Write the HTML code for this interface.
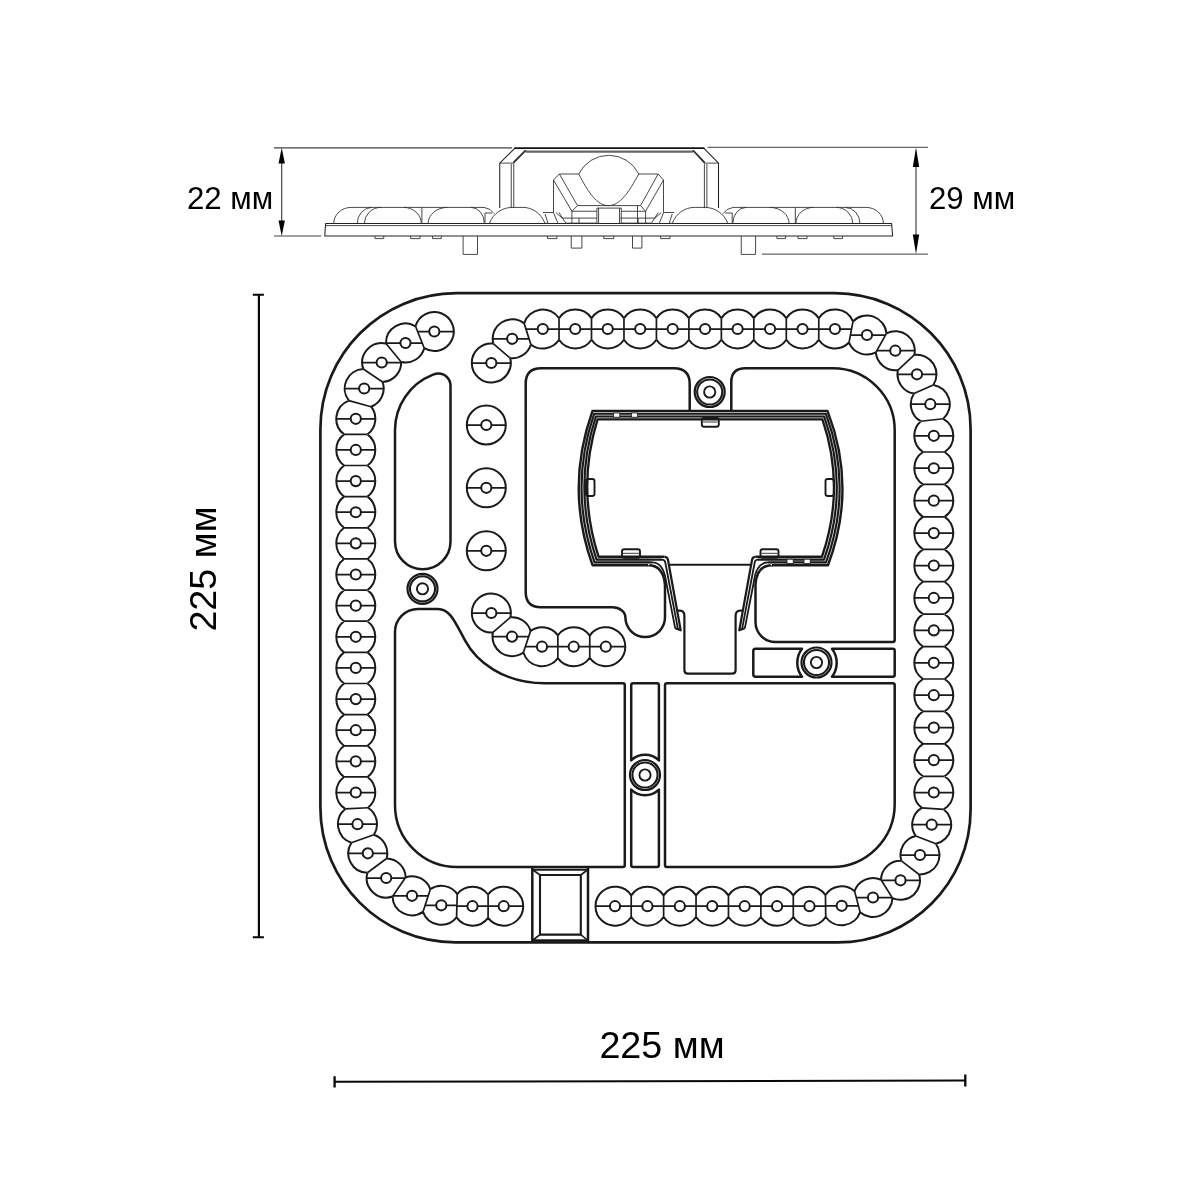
<!DOCTYPE html>
<html lang="ru">
<head>
<meta charset="utf-8">
<title>225 мм</title>
<style>
html,body{margin:0;padding:0;background:#fff;}
body{width:1200px;height:1200px;overflow:hidden;font-family:"Liberation Sans",sans-serif;}
svg{display:block;}
text{font-family:"Liberation Sans",sans-serif;fill:#000;}
svg{will-change:transform;}
.m{fill:none;stroke:#1a1a1a;stroke-width:2.5;stroke-linejoin:round;stroke-linecap:round;}
.l{fill:none;stroke:#1a1a1a;stroke-width:2;stroke-linecap:butt;}
.s{fill:none;stroke:#1a1a1a;stroke-width:1.5;}
.t{fill:none;stroke:#222;stroke-width:0.9;stroke-linejoin:round;}
.d{fill:none;stroke:#1a1a1a;stroke-width:2;stroke-linejoin:round;stroke-linecap:round;}
.e{fill:none;stroke:#444;stroke-width:1.15;}
.v{fill:none;stroke:#333;stroke-width:0.9;stroke-linejoin:round;}
.vb{fill:none;stroke:#222;stroke-width:1.05;stroke-linejoin:round;}
.k{fill:none;stroke:#111;stroke-width:2.1;}
</style>
</head>
<body>
<svg width="1200" height="1200" viewBox="0 0 1200 1200">
<rect width="1200" height="1200" fill="#fff"/>

<g id="plan">
<path class="m" style="stroke-width:2.7" d="M456.4,293.2H834.6C909.71,293.2 970.6,354.09 970.6,429.2V809.4C970.6,882.86 911.06,942.4 837.6,942.4H455.4C380.84,942.4 320.4,881.96 320.4,807.4V429.2C320.4,354.09 381.29,293.2 456.4,293.2Z"/>
<path class="m" d="M395,541.5V430A59.3,59.3 0 0 1 432.5,374.9Q436,373.5 438.5,373.5A12,12 0 0 1 450.5,385.5V541.5A27.75,27.75 0 0 1 395,541.5Z"/>
<path class="m" d="M395,632A23,23 0 0 1 418,609H438C450,609 455,622 465,640.3C476,661 503,683.3 545,683.3H622.8Q624.8,683.3 624.8,685.3V865Q624.8,867 622.8,867H457A62,62 0 0 1 395,805Z"/>
<path class="m" d="M631.2,685.3Q631.2,683.3 633.2,683.3H656.9Q658.9,683.3 658.9,685.3V760.4A20,20 0 0 0 631.2,760.4Z"/>
<path class="m" d="M631.2,789.6A20,20 0 0 0 658.9,789.6V865Q658.9,867 656.9,867H633.2Q631.2,867 631.2,865Z"/>
<path class="m" d="M665,685.3Q665,683.3 667,683.3H892.7Q894.7,683.3 894.7,685.3V804A63,63 0 0 1 831.7,867H667Q665,867 665,865Z"/>
<path class="m" d="M753.3,651Q753.3,648.7 755.5,648.7H802A23.2,23.2 0 0 0 802,676.7H755.5Q753.3,676.7 753.3,674.5Z"/>
<path class="m" d="M832,648.7H892.7Q894.7,648.7 894.7,650.7V674.7Q894.7,676.7 892.7,676.7H832A23.2,23.2 0 0 0 832,648.7Z"/>
<path class="m" d="M689.7,411V384Q689.7,368.2 674,368.2H541Q525.7,368.2 525.7,383.5V592Q525.7,607.2 541,607.2H612.5A12.9,10.2 0 0 1 625.4,617.3A19.8,19.8 0 0 0 665,617.3V586Q664,565.2 648,565.2"/>
<path class="m" d="M731.3,411V382Q731.3,368.2 745.5,368.2H832.7A62,62 0 0 1 894.7,430.2V640Q894.7,642 892.7,642H775.5A20,20 0 0 1 755.5,622.5V584Q757,565.2 772,565.2"/>
<path class="l" style="stroke-width:2.2" d="M677.5,610.6H680Q684.4,610.6 684.4,616V670.2Q684.4,673.7 688,673.7H732Q735.6,673.7 735.6,670.2V616Q735.6,610.6 740,610.6H742.5"/>
<path class="l" d="M669.5,564.7H751"/>
<path class="m" d="M532.3,867.3V942M588,867.3V942"/>
<path class="l" style="stroke-width:2" d="M532.3,869.7H588M532.3,940.3H588"/>
<path class="l" style="stroke-width:2.1" d="M540,875H580.8V934.6H540Z"/>
<path class="l" style="stroke-width:1.6" d="M533,870L540,875M587.3,870L580.8,875M533,940L540,934.6M587.3,940L580.8,934.6"/>
<path class="l" d="M415.51,326.27A19.5,19.5 0 1,1 424.29,348.23M429.2,331.5a5.1,5.1 0 1,0 10.2,0a5.1,5.1 0 1,0 -10.2,0M386.01,343.48A19.5,19.5 0 0,1 415.51,326.27M424.29,348.23A19.5,19.5 0 0,1 401.19,362.02M400.4,343a5.1,5.1 0 1,0 10.2,0a5.1,5.1 0 1,0 -10.2,0M363.32,369.02A19.5,19.5 0 0,1 386.01,343.48M401.19,362.02A19.5,19.5 0 0,1 382.58,381.98M376.6,362.5a5.1,5.1 0 1,0 10.2,0a5.1,5.1 0 1,0 -10.2,0M348.88,400.57A19.5,19.5 0 0,1 363.32,369.02M382.58,381.98A19.5,19.5 0 0,1 371.12,406.73M359.1,388.5a5.1,5.1 0 1,0 10.2,0a5.1,5.1 0 1,0 -10.2,0M344.06,434.37A19.5,19.5 0 0,1 348.88,400.57M371.12,406.73A19.5,19.5 0 0,1 367.54,434.37M350.7,418.8a5.1,5.1 0 1,0 10.2,0a5.1,5.1 0 1,0 -10.2,0M344.06,465.51A19.5,19.5 0 0,1 344.06,434.37M367.54,434.37A19.5,19.5 0 0,1 367.54,465.51M350.7,449.94a5.1,5.1 0 1,0 10.2,0a5.1,5.1 0 1,0 -10.2,0M344.06,496.65A19.5,19.5 0 0,1 344.06,465.51M367.54,465.51A19.5,19.5 0 0,1 367.54,496.65M350.7,481.08a5.1,5.1 0 1,0 10.2,0a5.1,5.1 0 1,0 -10.2,0M344.06,527.8A19.5,19.5 0 0,1 344.06,496.65M367.54,496.65A19.5,19.5 0 0,1 367.54,527.8M350.7,512.23a5.1,5.1 0 1,0 10.2,0a5.1,5.1 0 1,0 -10.2,0M344.06,558.94A19.5,19.5 0 0,1 344.06,527.8M367.54,527.8A19.5,19.5 0 0,1 367.54,558.94M350.7,543.37a5.1,5.1 0 1,0 10.2,0a5.1,5.1 0 1,0 -10.2,0M344.06,590.08A19.5,19.5 0 0,1 344.06,558.94M367.54,558.94A19.5,19.5 0 0,1 367.54,590.08M350.7,574.51a5.1,5.1 0 1,0 10.2,0a5.1,5.1 0 1,0 -10.2,0M344.06,621.22A19.5,19.5 0 0,1 344.06,590.08M367.54,590.08A19.5,19.5 0 0,1 367.54,621.22M350.7,605.65a5.1,5.1 0 1,0 10.2,0a5.1,5.1 0 1,0 -10.2,0M344.06,652.36A19.5,19.5 0 0,1 344.06,621.22M367.54,621.22A19.5,19.5 0 0,1 367.54,652.36M350.7,636.79a5.1,5.1 0 1,0 10.2,0a5.1,5.1 0 1,0 -10.2,0M344.06,683.5A19.5,19.5 0 0,1 344.06,652.36M367.54,652.36A19.5,19.5 0 0,1 367.54,683.5M350.7,667.93a5.1,5.1 0 1,0 10.2,0a5.1,5.1 0 1,0 -10.2,0M344.06,714.65A19.5,19.5 0 0,1 344.06,683.5M367.54,683.5A19.5,19.5 0 0,1 367.54,714.65M350.7,699.08a5.1,5.1 0 1,0 10.2,0a5.1,5.1 0 1,0 -10.2,0M344.06,745.79A19.5,19.5 0 0,1 344.06,714.65M367.54,714.65A19.5,19.5 0 0,1 367.54,745.79M350.7,730.22a5.1,5.1 0 1,0 10.2,0a5.1,5.1 0 1,0 -10.2,0M344.06,776.93A19.5,19.5 0 0,1 344.06,745.79M367.54,745.79A19.5,19.5 0 0,1 367.54,776.93M350.7,761.36a5.1,5.1 0 1,0 10.2,0a5.1,5.1 0 1,0 -10.2,0M345.34,808.96A19.5,19.5 0 0,1 344.06,776.93M367.54,776.93A19.5,19.5 0 0,1 367.96,807.74M350.7,792.5a5.1,5.1 0 1,0 10.2,0a5.1,5.1 0 1,0 -10.2,0M351.42,842.73A19.5,19.5 0 0,1 345.34,808.96M367.96,807.74A19.5,19.5 0 0,1 373.88,834.77M352.4,824.2a5.1,5.1 0 1,0 10.2,0a5.1,5.1 0 1,0 -10.2,0M367.41,872.8A19.5,19.5 0 0,1 351.42,842.73M373.88,834.77A19.5,19.5 0 0,1 386.59,858.5M362.7,853.3a5.1,5.1 0 1,0 10.2,0a5.1,5.1 0 1,0 -10.2,0M386.59,858.5A19.5,19.5 0 0,1 405.69,877.35M392.51,896.45A19.5,19.5 0 0,1 367.41,872.8M381.1,878a5.1,5.1 0 1,0 10.2,0a5.1,5.1 0 1,0 -10.2,0M405.69,877.35A19.5,19.5 0 0,1 430.34,889.17M422.96,911.93A19.5,19.5 0 0,1 392.51,896.45M406.9,895.8a5.1,5.1 0 1,0 10.2,0a5.1,5.1 0 1,0 -10.2,0M430.34,889.17A19.5,19.5 0 0,1 457.24,894.06M456.56,917.44A19.5,19.5 0 0,1 422.96,911.93M436.2,905.3a5.1,5.1 0 1,0 10.2,0a5.1,5.1 0 1,0 -10.2,0M457.24,894.06A19.5,19.5 0 0,1 488.1,894.5M488.1,917.9A19.5,19.5 0 0,1 456.56,917.44M467.4,906.2a5.1,5.1 0 1,0 10.2,0a5.1,5.1 0 1,0 -10.2,0M488.1,894.5A19.5,19.5 0 1,1 488.1,917.9M498.6,906.2a5.1,5.1 0 1,0 10.2,0a5.1,5.1 0 1,0 -10.2,0M631.21,917.04A19.5,19.5 0 1,1 631.21,895.36M609.9,906.2a5.1,5.1 0 1,0 10.2,0a5.1,5.1 0 1,0 -10.2,0M631.21,895.36A19.5,19.5 0 0,1 663.62,895.36M663.62,917.04A19.5,19.5 0 0,1 631.21,917.04M642.32,906.2a5.1,5.1 0 1,0 10.2,0a5.1,5.1 0 1,0 -10.2,0M663.62,895.36A19.5,19.5 0 0,1 696.04,895.36M696.04,917.04A19.5,19.5 0 0,1 663.62,917.04M674.73,906.2a5.1,5.1 0 1,0 10.2,0a5.1,5.1 0 1,0 -10.2,0M696.04,895.36A19.5,19.5 0 0,1 728.46,895.36M728.46,917.04A19.5,19.5 0 0,1 696.04,917.04M707.15,906.2a5.1,5.1 0 1,0 10.2,0a5.1,5.1 0 1,0 -10.2,0M728.46,895.36A19.5,19.5 0 0,1 760.88,895.36M760.88,917.04A19.5,19.5 0 0,1 728.46,917.04M739.57,906.2a5.1,5.1 0 1,0 10.2,0a5.1,5.1 0 1,0 -10.2,0M760.88,895.36A19.5,19.5 0 0,1 793.29,895.36M793.29,917.04A19.5,19.5 0 0,1 760.88,917.04M771.98,906.2a5.1,5.1 0 1,0 10.2,0a5.1,5.1 0 1,0 -10.2,0M793.29,895.36A19.5,19.5 0 0,1 825.46,895M825.74,917A19.5,19.5 0 0,1 793.29,917.04M804.4,906.2a5.1,5.1 0 1,0 10.2,0a5.1,5.1 0 1,0 -10.2,0M825.46,895A19.5,19.5 0 0,1 854.56,891.15M860.14,912.15A19.5,19.5 0 0,1 825.74,917M836.6,905.8a5.1,5.1 0 1,0 10.2,0a5.1,5.1 0 1,0 -10.2,0M854.56,891.15A19.5,19.5 0 0,1 881.01,879.72M892.49,898.08A19.5,19.5 0 0,1 860.14,912.15M867.9,897.5a5.1,5.1 0 1,0 10.2,0a5.1,5.1 0 1,0 -10.2,0M881.01,879.72A19.5,19.5 0 0,1 901.39,860.82M919.11,874.48A19.5,19.5 0 0,1 892.49,898.08M895.4,880.3a5.1,5.1 0 1,0 10.2,0a5.1,5.1 0 1,0 -10.2,0M901.39,860.82A19.5,19.5 0 0,1 915.78,835.96M935.92,843.74A19.5,19.5 0 0,1 919.11,874.48M914.9,855a5.1,5.1 0 1,0 10.2,0a5.1,5.1 0 1,0 -10.2,0M915.78,835.96A19.5,19.5 0 0,1 921.82,807.89M943.68,809.31A19.5,19.5 0 0,1 935.92,843.74M926.6,824.7a5.1,5.1 0 1,0 10.2,0a5.1,5.1 0 1,0 -10.2,0M921.82,807.89A19.5,19.5 0 0,1 922.97,776.29M944.63,776.29A19.5,19.5 0 0,1 943.68,809.31M928.7,792.5a5.1,5.1 0 1,0 10.2,0a5.1,5.1 0 1,0 -10.2,0M922.97,776.29A19.5,19.5 0 0,1 922.97,743.86M944.63,743.86A19.5,19.5 0 0,1 944.63,776.29M928.7,760.07a5.1,5.1 0 1,0 10.2,0a5.1,5.1 0 1,0 -10.2,0M922.97,743.86A19.5,19.5 0 0,1 922.97,711.43M944.63,711.43A19.5,19.5 0 0,1 944.63,743.86M928.7,727.65a5.1,5.1 0 1,0 10.2,0a5.1,5.1 0 1,0 -10.2,0M922.97,711.43A19.5,19.5 0 0,1 922.97,679M944.63,679A19.5,19.5 0 0,1 944.63,711.43M928.7,695.22a5.1,5.1 0 1,0 10.2,0a5.1,5.1 0 1,0 -10.2,0M922.97,679A19.5,19.5 0 0,1 922.97,646.58M944.63,646.58A19.5,19.5 0 0,1 944.63,679M928.7,662.79a5.1,5.1 0 1,0 10.2,0a5.1,5.1 0 1,0 -10.2,0M922.97,646.58A19.5,19.5 0 0,1 922.97,614.15M944.63,614.15A19.5,19.5 0 0,1 944.63,646.58M928.7,630.36a5.1,5.1 0 1,0 10.2,0a5.1,5.1 0 1,0 -10.2,0M922.97,614.15A19.5,19.5 0 0,1 922.97,581.72M944.63,581.72A19.5,19.5 0 0,1 944.63,614.15M928.7,597.94a5.1,5.1 0 1,0 10.2,0a5.1,5.1 0 1,0 -10.2,0M922.97,581.72A19.5,19.5 0 0,1 922.97,549.3M944.63,549.3A19.5,19.5 0 0,1 944.63,581.72M928.7,565.51a5.1,5.1 0 1,0 10.2,0a5.1,5.1 0 1,0 -10.2,0M922.97,549.3A19.5,19.5 0 0,1 922.97,516.87M944.63,516.87A19.5,19.5 0 0,1 944.63,549.3M928.7,533.08a5.1,5.1 0 1,0 10.2,0a5.1,5.1 0 1,0 -10.2,0M922.97,516.87A19.5,19.5 0 0,1 922.97,484.44M944.63,484.44A19.5,19.5 0 0,1 944.63,516.87M928.7,500.65a5.1,5.1 0 1,0 10.2,0a5.1,5.1 0 1,0 -10.2,0M922.97,484.44A19.5,19.5 0 0,1 922.97,452.01M944.63,452.01A19.5,19.5 0 0,1 944.63,484.44M928.7,468.23a5.1,5.1 0 1,0 10.2,0a5.1,5.1 0 1,0 -10.2,0M922.97,452.01A19.5,19.5 0 0,1 920.82,421.24M943.28,418.76A19.5,19.5 0 0,1 944.63,452.01M928.7,435.8a5.1,5.1 0 1,0 10.2,0a5.1,5.1 0 1,0 -10.2,0M920.82,421.24A19.5,19.5 0 0,1 913.96,393.56M933.34,384.94A19.5,19.5 0 0,1 943.28,418.76M925.2,404.2a5.1,5.1 0 1,0 10.2,0a5.1,5.1 0 1,0 -10.2,0M913.96,393.56A19.5,19.5 0 0,1 897.98,370.02M914.32,354.98A19.5,19.5 0 0,1 933.34,384.94M911.9,374.3a5.1,5.1 0 1,0 10.2,0a5.1,5.1 0 1,0 -10.2,0M897.98,370.02A19.5,19.5 0 0,1 875.87,352.37M886.43,333.33A19.5,19.5 0 0,1 914.32,354.98M890.2,350.7a5.1,5.1 0 1,0 10.2,0a5.1,5.1 0 1,0 -10.2,0M852.98,321.45A19.5,19.5 0 0,1 886.43,333.33M875.87,352.37A19.5,19.5 0 0,1 849.02,342.55M861.9,335a5.1,5.1 0 1,0 10.2,0a5.1,5.1 0 1,0 -10.2,0M818.77,318.2A19.5,19.5 0 0,1 852.98,321.45M849.02,342.55A19.5,19.5 0 0,1 818.77,339.8M829.9,329a5.1,5.1 0 1,0 10.2,0a5.1,5.1 0 1,0 -10.2,0M786.3,318.2A19.5,19.5 0 0,1 818.77,318.2M818.77,339.8A19.5,19.5 0 0,1 786.3,339.8M797.43,329a5.1,5.1 0 1,0 10.2,0a5.1,5.1 0 1,0 -10.2,0M753.83,318.2A19.5,19.5 0 0,1 786.3,318.2M786.3,339.8A19.5,19.5 0 0,1 753.83,339.8M764.97,329a5.1,5.1 0 1,0 10.2,0a5.1,5.1 0 1,0 -10.2,0M721.37,318.2A19.5,19.5 0 0,1 753.83,318.2M753.83,339.8A19.5,19.5 0 0,1 721.37,339.8M732.5,329a5.1,5.1 0 1,0 10.2,0a5.1,5.1 0 1,0 -10.2,0M688.9,318.2A19.5,19.5 0 0,1 721.37,318.2M721.37,339.8A19.5,19.5 0 0,1 688.9,339.8M700.03,329a5.1,5.1 0 1,0 10.2,0a5.1,5.1 0 1,0 -10.2,0M656.43,318.2A19.5,19.5 0 0,1 688.9,318.2M688.9,339.8A19.5,19.5 0 0,1 656.43,339.8M667.57,329a5.1,5.1 0 1,0 10.2,0a5.1,5.1 0 1,0 -10.2,0M623.97,318.2A19.5,19.5 0 0,1 656.43,318.2M656.43,339.8A19.5,19.5 0 0,1 623.97,339.8M635.1,329a5.1,5.1 0 1,0 10.2,0a5.1,5.1 0 1,0 -10.2,0M591.5,318.2A19.5,19.5 0 0,1 623.97,318.2M623.97,339.8A19.5,19.5 0 0,1 591.5,339.8M602.63,329a5.1,5.1 0 1,0 10.2,0a5.1,5.1 0 1,0 -10.2,0M559.03,318.2A19.5,19.5 0 0,1 591.5,318.2M591.5,339.8A19.5,19.5 0 0,1 559.03,339.8M570.17,329a5.1,5.1 0 1,0 10.2,0a5.1,5.1 0 1,0 -10.2,0M524.13,323.37A19.5,19.5 0 0,1 559.03,318.2M559.03,339.8A19.5,19.5 0 0,1 530.87,344.43M537.7,329a5.1,5.1 0 1,0 10.2,0a5.1,5.1 0 1,0 -10.2,0M493.3,343.6A19.5,19.5 0 0,1 524.13,323.37M530.87,344.43A19.5,19.5 0 0,1 510.2,358.2M507.1,338.8a5.1,5.1 0 1,0 10.2,0a5.1,5.1 0 1,0 -10.2,0M510.2,358.2A19.5,19.5 0 1,1 493.3,343.6M486.2,363a5.1,5.1 0 1,0 10.2,0a5.1,5.1 0 1,0 -10.2,0M492.97,632.43A19.5,19.5 0 1,1 510.33,617.27M486.2,613a5.1,5.1 0 1,0 10.2,0a5.1,5.1 0 1,0 -10.2,0M510.33,617.27A19.5,19.5 0 0,1 530.61,630.87M523.39,652.53A19.5,19.5 0 0,1 492.97,632.43M506.9,636.7a5.1,5.1 0 1,0 10.2,0a5.1,5.1 0 1,0 -10.2,0M530.61,630.87A19.5,19.5 0 0,1 557.85,635.34M557.85,658.06A19.5,19.5 0 0,1 523.39,652.53M536.9,646.7a5.1,5.1 0 1,0 10.2,0a5.1,5.1 0 1,0 -10.2,0M557.85,635.34A19.5,19.5 0 0,1 589.75,635.63M589.75,657.77A19.5,19.5 0 0,1 557.85,658.06M568.6,646.7a5.1,5.1 0 1,0 10.2,0a5.1,5.1 0 1,0 -10.2,0M589.75,635.63A19.5,19.5 0 1,1 589.75,657.77M600.7,646.7a5.1,5.1 0 1,0 10.2,0a5.1,5.1 0 1,0 -10.2,0M466.8,425a19.5,19.5 0 1,0 39,0a19.5,19.5 0 1,0 -39,0M481.2,425a5.1,5.1 0 1,0 10.2,0a5.1,5.1 0 1,0 -10.2,0M466.8,487.8a19.5,19.5 0 1,0 39,0a19.5,19.5 0 1,0 -39,0M481.2,487.8a5.1,5.1 0 1,0 10.2,0a5.1,5.1 0 1,0 -10.2,0M466.8,550.8a19.5,19.5 0 1,0 39,0a19.5,19.5 0 1,0 -39,0M481.2,550.8a5.1,5.1 0 1,0 10.2,0a5.1,5.1 0 1,0 -10.2,0"/>
<path class="l" style="stroke-width:1.75" d="M417.68,331.5H429.2M439.4,331.5H453.8M386,343H400.4M410.6,343H422.12M362.2,362.5H376.6M386.8,362.5H401.2M344.7,388.5H359.1M369.3,388.5H383.7M336.3,418.8H350.7M360.9,418.8H375.3M336.3,449.94H350.7M360.9,449.94H375.3M336.3,481.08H350.7M360.9,481.08H375.3M336.3,512.23H350.7M360.9,512.23H375.3M336.3,543.37H350.7M360.9,543.37H375.3M336.3,574.51H350.7M360.9,574.51H375.3M336.3,605.65H350.7M360.9,605.65H375.3M336.3,636.79H350.7M360.9,636.79H375.3M336.3,667.93H350.7M360.9,667.93H375.3M336.3,699.08H350.7M360.9,699.08H375.3M336.3,730.22H350.7M360.9,730.22H375.3M336.3,761.36H350.7M360.9,761.36H375.3M336.3,792.5H350.7M360.9,792.5H375.3M338,824.2H352.4M362.6,824.2H377M348.3,853.3H362.7M372.9,853.3H387.3M366.7,878H381.1M391.3,878H405.22M392.98,895.8H406.9M417.1,895.8H428.14M425.16,905.3H436.2M446.4,905.3H456.84M456.96,906.2H467.4M477.6,906.2H488.04M488.16,906.2H498.6M508.8,906.2H523.2M595.5,906.2H609.9M620.1,906.2H631.14M631.28,906.2H642.32M652.52,906.2H663.56M663.69,906.2H674.73M684.93,906.2H695.97M696.11,906.2H707.15M717.35,906.2H728.39M728.53,906.2H739.57M749.77,906.2H760.81M760.94,906.2H771.98M782.18,906.2H793.22M793.36,906.2H804.4M814.6,906.2H825.52M825.68,905.8H836.6M846.8,905.8H858.44M856.26,897.5H867.9M878.1,897.5H892.02M881.48,880.3H895.4M905.6,880.3H920M900.5,855H914.9M925.1,855H939.5M912.2,824.7H926.6M936.8,824.7H951.2M914.3,792.5H928.7M938.9,792.5H953.3M914.3,760.07H928.7M938.9,760.07H953.3M914.3,727.65H928.7M938.9,727.65H953.3M914.3,695.22H928.7M938.9,695.22H953.3M914.3,662.79H928.7M938.9,662.79H953.3M914.3,630.36H928.7M938.9,630.36H953.3M914.3,597.94H928.7M938.9,597.94H953.3M914.3,565.51H928.7M938.9,565.51H953.3M914.3,533.08H928.7M938.9,533.08H953.3M914.3,500.65H928.7M938.9,500.65H953.3M914.3,468.23H928.7M938.9,468.23H953.3M914.3,435.8H928.7M938.9,435.8H953.3M910.8,404.2H925.2M935.4,404.2H949.8M897.5,374.3H911.9M922.1,374.3H936.5M876.88,350.7H890.2M900.4,350.7H914.8M850.5,335H861.9M872.1,335H885.42M818.86,329H829.9M840.1,329H851.5M786.39,329H797.43M807.63,329H818.67M753.93,329H764.97M775.17,329H786.21M721.46,329H732.5M742.7,329H753.74M688.99,329H700.03M710.23,329H721.27M656.53,329H667.57M677.77,329H688.81M624.06,329H635.1M645.3,329H656.34M591.59,329H602.63M612.83,329H623.87M559.13,329H570.17M580.37,329H591.41M525.94,329H537.7M547.9,329H558.94M492.7,338.8H507.1M517.3,338.8H529.06M471.8,363H486.2M496.4,363H510.8M471.8,613H486.2M496.4,613H510.8M492.5,636.7H506.9M517.1,636.7H528.62M525.38,646.7H536.9M547.1,646.7H557.78M557.92,646.7H568.6M578.8,646.7H589.72M589.78,646.7H600.7M610.9,646.7H625.3M466.8,425H481.2M491.4,425H505.8M466.8,487.8H481.2M491.4,487.8H505.8M466.8,550.8H481.2M491.4,550.8H505.8"/>
<path class="l" style="stroke-width:1.7" d="M415.51,326.27L424.29,348.23M386.01,343.48L401.19,362.02M363.32,369.02L382.58,381.98M348.88,400.57L371.12,406.73M344.06,434.37L367.54,434.37M344.06,465.51L367.54,465.51M344.06,496.65L367.54,496.65M344.06,527.8L367.54,527.8M344.06,558.94L367.54,558.94M344.06,590.08L367.54,590.08M344.06,621.22L367.54,621.22M344.06,652.36L367.54,652.36M344.06,683.5L367.54,683.5M344.06,714.65L367.54,714.65M344.06,745.79L367.54,745.79M344.06,776.93L367.54,776.93M345.34,808.96L367.96,807.74M351.42,842.73L373.88,834.77M367.41,872.8L386.59,858.5M392.51,896.45L405.69,877.35M422.96,911.93L430.34,889.17M456.56,917.44L457.24,894.06M488.1,917.9L488.1,894.5M631.21,917.04L631.21,895.36M663.62,917.04L663.62,895.36M696.04,917.04L696.04,895.36M728.46,917.04L728.46,895.36M760.88,917.04L760.88,895.36M793.29,917.04L793.29,895.36M825.74,917L825.46,895M860.14,912.15L854.56,891.15M892.49,898.08L881.01,879.72M919.11,874.48L901.39,860.82M935.92,843.74L915.78,835.96M943.68,809.31L921.82,807.89M944.63,776.29L922.97,776.29M944.63,743.86L922.97,743.86M944.63,711.43L922.97,711.43M944.63,679L922.97,679M944.63,646.58L922.97,646.58M944.63,614.15L922.97,614.15M944.63,581.72L922.97,581.72M944.63,549.3L922.97,549.3M944.63,516.87L922.97,516.87M944.63,484.44L922.97,484.44M944.63,452.01L922.97,452.01M943.28,418.76L920.82,421.24M933.34,384.94L913.96,393.56M914.32,354.98L897.98,370.02M886.43,333.33L875.87,352.37M852.98,321.45L849.02,342.55M818.77,318.2L818.77,339.8M786.3,318.2L786.3,339.8M753.83,318.2L753.83,339.8M721.37,318.2L721.37,339.8M688.9,318.2L688.9,339.8M656.43,318.2L656.43,339.8M623.97,318.2L623.97,339.8M591.5,318.2L591.5,339.8M559.03,318.2L559.03,339.8M524.13,323.37L530.87,344.43M493.3,343.6L510.2,358.2M492.97,632.43L510.33,617.27M523.39,652.53L530.61,630.87M557.85,658.06L557.85,635.34M589.75,657.77L589.75,635.63"/>
<circle cx="422.5" cy="588.8" r="15" fill="none" stroke="#1a1a1a" stroke-width="2.2"/>
<circle cx="422.5" cy="588.8" r="12.55" fill="none" stroke="#1a1a1a" stroke-width="2.1"/>
<circle cx="422.5" cy="588.8" r="5.6" fill="none" stroke="#1a1a1a" stroke-width="1.9"/>
<circle cx="709.7" cy="392" r="15" fill="none" stroke="#1a1a1a" stroke-width="2.2"/>
<circle cx="709.7" cy="392" r="12.55" fill="none" stroke="#1a1a1a" stroke-width="2.1"/>
<circle cx="709.7" cy="392" r="5.6" fill="none" stroke="#1a1a1a" stroke-width="1.9"/>
<circle cx="816.5" cy="662.5" r="15" fill="none" stroke="#1a1a1a" stroke-width="2.2"/>
<circle cx="816.5" cy="662.5" r="12.55" fill="none" stroke="#1a1a1a" stroke-width="2.1"/>
<circle cx="816.5" cy="662.5" r="5.6" fill="none" stroke="#1a1a1a" stroke-width="1.9"/>
<circle cx="645" cy="775" r="15" fill="none" stroke="#1a1a1a" stroke-width="2.2"/>
<circle cx="645" cy="775" r="12.55" fill="none" stroke="#1a1a1a" stroke-width="2.1"/>
<circle cx="645" cy="775" r="5.6" fill="none" stroke="#1a1a1a" stroke-width="1.9"/>
<path d="M649.5,561H595.52Q570.61,488 595.02,415.1H824.98Q851.54,488 824.98,561H770.5" fill="none" stroke="#e2e2e2" stroke-width="8.4" stroke-linejoin="round"/>
<path d="M648,565.2H592.5Q564.9,488 592.5,410.9H827.5Q857.25,488 828,565.2H772" fill="none" stroke="#1a1a1a" stroke-width="2.4" stroke-linejoin="round"/>
<path d="M652,562.4H594.52Q568.71,488 594.18,413.7H825.82Q853.44,488 825.98,562.4H768" fill="none" stroke="#1a1a1a" stroke-width="2.1" stroke-linejoin="round"/>
<path d="M662,559.6H596.53Q572.52,488 595.86,416.5H824.14Q849.63,488 823.97,559.6H758" fill="none" stroke="#1a1a1a" stroke-width="2.1" stroke-linejoin="round"/>
<path d="M664.5,556.75H598.58Q576.39,488 597.57,419.35H822.43Q845.76,488 821.92,556.75H755.5" fill="none" stroke="#1a1a1a" stroke-width="2.3" stroke-linejoin="round"/>
<path d="M664.5,556.9Q667.5,556.9 668,560L680.7,630.3L675.2,628.3" fill="none" stroke="#1a1a1a" stroke-width="2.2" stroke-linejoin="round"/><path d="M662,559.7Q664.8,559.7 665.3,562.5L678,629.3M652,562.45C661,562.45 664.5,570 666,581L675.2,628.3" fill="none" stroke="#1a1a1a" stroke-width="1.8" stroke-linejoin="round"/>
<path d="M755.5,556.9Q752.5,556.9 752,560L739.3,630.3L744.8,628.3" fill="none" stroke="#1a1a1a" stroke-width="2.2" stroke-linejoin="round"/><path d="M758,559.7Q755.2,559.7 754.7,562.5L742,629.3M768,562.45C759,562.45 755.5,570 754,581L744.8,628.3" fill="none" stroke="#1a1a1a" stroke-width="1.8" stroke-linejoin="round"/>
<rect class="s" style="stroke-width:1.9" x="622" y="549.3" width="18" height="8.5" rx="2.2"/>
<path class="t" d="M623,553.3H639"/>
<rect class="s" style="stroke-width:1.9" x="760.5" y="549.3" width="18" height="8.5" rx="2.2"/>
<path class="t" d="M761.5,553.3H777.5"/>
<rect class="s" style="stroke-width:1.9" x="701.8" y="418" width="17" height="8.7" rx="2.2"/>
<path class="t" d="M702.5,422H717.5"/>
<rect class="s" style="stroke-width:1.9" x="586" y="479" width="8.5" height="17" rx="2.2"/>
<rect class="s" style="stroke-width:1.9" x="825.5" y="479" width="8.5" height="17" rx="2.2"/>
<rect x="613.6" y="413" width="6.2" height="4.2" fill="#fff" stroke="#1a1a1a" stroke-width="0.8"/>
<rect x="631.4" y="413" width="6.2" height="4.2" fill="#fff" stroke="#1a1a1a" stroke-width="0.8"/>
<rect x="787" y="559.2" width="6.2" height="4.2" fill="#fff" stroke="#1a1a1a" stroke-width="0.8"/>
<rect x="804" y="559.2" width="6.2" height="4.2" fill="#fff" stroke="#1a1a1a" stroke-width="0.8"/>
</g>
<g id="side">
<path class="vb" d="M325.6,223.5 H891.6 L892.6,236 H324.8 Z"/>
<path class="v" d="M325.6,225.6 H891.6"/>
<path class="v" d="M333.75,223.5A17.25,16.1 0 0 1 351,207.4M357.25,223.5A14.75,16.1 0 0 1 372,207.4M364.4,223.5A16.6,16.1 0 0 1 381,207.4M351,207.4H484M421.25,223.5A17.5,16.1 0 0 0 403.75,207.4M421.9,207.4V223.5M428.1,223.5A19.4,16.1 0 0 1 447.5,207.4M484.4,223.5A13.4,16.1 0 0 0 471,207.4M484,207.4Q491,208.5 494,213.5M489.4,223.5C493,213 503,207.4 512,207.4 H523 C532,207.4 541,213 545,223.5M485,223.5V213H492M543,212.5H553.5L558,223.5M545,214L548,223.3H545L545,223.5M556,212.5L562,218.1H596.9M559,212.5L566,223.5M579,218.1V223.5M883.45,223.5A17.25,16.1 0 0 0 866.2,207.4M859.95,223.5A14.75,16.1 0 0 0 845.2,207.4M852.8,223.5A16.6,16.1 0 0 0 836.2,207.4M866.2,207.4H733.2M795.95,223.5A17.5,16.1 0 0 1 813.45,207.4M795.3,207.4V223.5M789.1,223.5A19.4,16.1 0 0 0 769.7,207.4M732.8,223.5A13.4,16.1 0 0 1 746.2,207.4M733.2,207.4Q726.2,208.5 723.2,213.5M727.8,223.5C724.2,213 714.2,207.4 705.2,207.4 H694.2 C685.2,207.4 676.2,213 672.2,223.5M732.2,223.5V213H725.2M674.2,212.5H663.7L659.2,223.5M672.2,214L669.2,223.3H672.2L672.2,223.5M661.2,212.5L655.2,218.1H620.3M658.2,212.5L651.2,223.5M638.2,218.1V223.5"/>
<path class="vb" d="M499.75,208.1V163.1L515,148.1H703.75L718.5,163.1V208.1"/>
<path class="v" d="M499.75,163.1H513.1M511.25,208.1V164M513.75,208.1V163.1L526.25,150M705,163.1H718.5M706.9,208.1V164M704.4,208.1V163.1L692.5,150"/>
<path d="M525.5,151.6H693" stroke="#666" stroke-width="2.4" fill="none"/>
<path d="M513.4,162.6L525.6,150.4M704.7,162.6L693,150.4" stroke="#333" stroke-width="1.8" fill="none"/>
<path d="M514,148.2H704.5" stroke="#111" stroke-width="1.6" fill="none"/>
<path class="v" d="M553.5,212.5V180L559.4,174H578.75M663.5,212.5V180L658.1,174H638.75M559.4,174L577.5,205.6H640.6L658.1,174M553.5,180L571.9,211.25H596.9M621.25,211.25H645.6L663.5,180M577.5,205.6L571.9,211.25M640.6,205.6L645.6,211.25M578.75,174A33.4,33.4 0 0 1 638.75,174M578.75,174C588,192 597,205.6 608.5,205.6C620,205.6 629,192 638.75,174M596.9,223.5V208.1H621.25V223.5M598.6,223.5V208.1M619.5,223.5V208.1M571.9,211.25V223.5M645.6,211.25V223.5M637.5,205.6V223.5M566,223.1H596.9M621.25,223.1H651"/>
<path class="v" d="M463.1,236V254.4H477.5V236M571.25,236V248.1H581.9V236M632.5,236V248.1H641.9V236M741.25,236V254.4H755.6V236M375,236V238.6H383.75V236M410.6,236V238.6H420V236M432.5,236V238.6H441.25V236M547.5,236V238.6H556.9V236M603.75,236V238.6H613.75V236M660.6,236V238.6H670V236M776.9,236V238.6H785.6V236M798,236V238.6H807V236M833.75,236V238.6H842.5V236"/>
</g>
<g id="dims">
<path class="e" d="M274,147.8H512M274,236H321.3"/>
<path d="M707.5,147.4H928M762,254.1H928" fill="none" stroke="#666" stroke-width="1.1"/>
<path d="M281.7,155.8V228" stroke="#444" stroke-width="1.2" fill="none"/><path d="M281.7,147.8L278.5,163.4H284.9Z" fill="#000"/><path d="M281.7,236L278.5,220.4H284.9Z" fill="#000"/>
<path d="M916,155.4V246.1" stroke="#444" stroke-width="1.2" fill="none"/><path d="M916,147.4L912.8,166.9H919.2Z" fill="#000"/><path d="M916,254.1L912.8,234.6H919.2Z" fill="#000"/>
<path d="M258.9,294.7V937.2" fill="none" stroke="#080808" stroke-width="2.2"/>
<path d="M252.8,294.7H263.9M252.8,937.2H263.9" fill="none" stroke="#080808" stroke-width="2"/>
<path d="M334.6,1081.8L965.3,1080.5" fill="none" stroke="#080808" stroke-width="2"/>
<path d="M334.6,1076.2V1087.5M965.3,1074.6V1086.5" fill="none" stroke="#080808" stroke-width="2.3"/>
<g id="txt">
<text x="186.9" y="208.8" font-size="31.2">22 мм</text>
<text x="928.9" y="208.8" font-size="31.2">29 мм</text>
<text x="599.4" y="1057.9" font-size="37.7">225 мм</text>
<text transform="translate(216 631.6) rotate(-90)" font-size="37.7">225 мм</text>
</g>
</g>
</svg>
</body>
</html>
